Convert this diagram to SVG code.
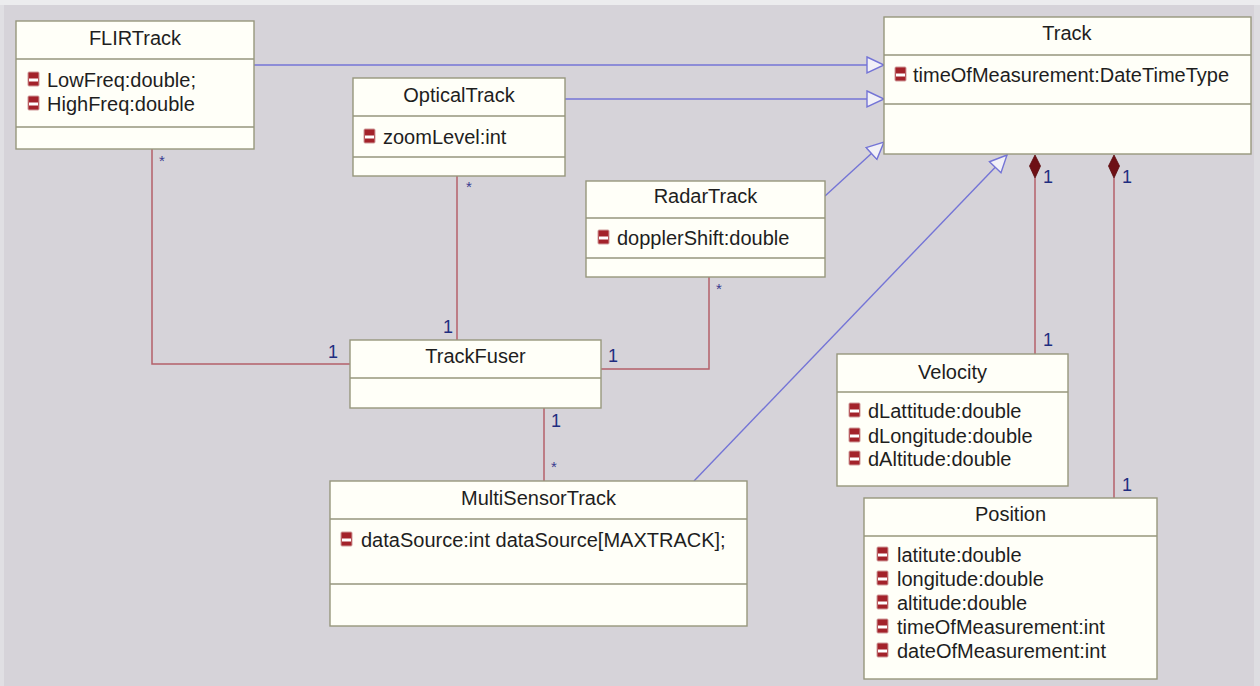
<svg xmlns="http://www.w3.org/2000/svg" width="1260" height="686" viewBox="0 0 1260 686">
  <style>
    .box { fill: #fffff8; stroke: #97977d; stroke-width: 1.4; }
    .div { stroke: #97977d; stroke-width: 1.4; fill: none; }
    .title { font-family: "Liberation Sans", Arial, sans-serif; font-size: 20px; fill: #1e1e1e; text-anchor: middle; }
    .attr { font-family: "Liberation Sans", Arial, sans-serif; font-size: 20px; fill: #1e1e1e; }
    .gen { stroke: #7474d6; stroke-width: 1.4; fill: none; marker-end: url(#hollow); }
    .assoc { stroke: #b4606a; stroke-width: 1.5; fill: none; }
    .mult { font-family: "Liberation Sans", Arial, sans-serif; font-size: 18px; fill: #1f2d80; }
    .star { font-family: "Liberation Sans", Arial, sans-serif; font-size: 15px; fill: #3a3a90; }
    .diamond { fill: #6e1016; stroke: #5a0a0e; stroke-width: 0.8; }
  </style>
  <defs>
    <!-- hollow triangle for generalization -->
    <marker id="hollow" viewBox="0 0 20 20" refX="18" refY="10" markerWidth="20" markerHeight="20" markerUnits="userSpaceOnUse" orient="auto">
      <path d="M1,2 L18,10 L1,18 Z" fill="#f2f1f7" stroke="#7474d6" stroke-width="1.4"/>
    </marker>
    <!-- private field icon -->
    <g id="field">
      <rect x="0" y="0" width="11" height="14" rx="1" fill="#a3222a" stroke="#cf9a9a" stroke-width="1"/>
      <rect x="1" y="6.5" width="9" height="3" fill="#ffffff"/>
    </g>
  </defs>

  <!-- backdrop -->
  <rect x="0" y="0" width="1260" height="686" fill="#d6d3d9"/>
  <rect x="0" y="0" width="1260" height="5" fill="#ececee"/>
  <rect x="0" y="5" width="4" height="681" fill="#e0dfe3"/>
  <rect x="1254" y="5" width="6" height="681" fill="#dedde1"/>

  <g id="connectors">
    <!-- generalizations to Track -->
    <path class="gen" d="M254,65 L884,65"/>
    <path class="gen" d="M565,99 L884,99"/>
    <path class="gen" d="M825,196 L884,142"/>
    <path class="gen" d="M694,481 L1007,155"/>
    <!-- associations to TrackFuser -->
    <path class="assoc" d="M152,149 L152,364 L350,364"/>
    <path class="assoc" d="M457,176 L457,340"/>
    <path class="assoc" d="M709,277 L709,369 L601,369"/>
    <path class="assoc" d="M544,408 L544,481"/>
    <!-- compositions from Track -->
    <path class="assoc" d="M1035,178 L1035,354"/>
    <path class="assoc" d="M1114,178 L1114,498"/>
    <path class="diamond" d="M1035,155 L1040.5,166 L1035,178 L1029.5,166 Z"/>
    <path class="diamond" d="M1114,155 L1119.5,166 L1114,178 L1108.5,166 Z"/>
    <!-- multiplicities -->
    <text class="star" x="159" y="166">*</text>
    <text class="mult" x="328" y="358">1</text>
    <text class="star" x="466" y="192">*</text>
    <text class="mult" x="443" y="333">1</text>
    <text class="star" x="716" y="294">*</text>
    <text class="mult" x="608" y="362">1</text>
    <text class="mult" x="551" y="427">1</text>
    <text class="star" x="551" y="472">*</text>
    <text class="mult" x="1043" y="183">1</text>
    <text class="mult" x="1043" y="346">1</text>
    <text class="mult" x="1122" y="183">1</text>
    <text class="mult" x="1122" y="491">1</text>
  </g>

  <g id="FLIRTrack">
    <rect class="box" x="16" y="21" width="238" height="128"/>
    <path class="div" d="M16,59 H254 M16,127 H254"/>
    <text class="title" x="135" y="45">FLIRTrack</text>
    <use href="#field" x="28" y="72"/>
    <text class="attr" x="47" y="87">LowFreq:double;</text>
    <use href="#field" x="28" y="96"/>
    <text class="attr" x="47" y="111">HighFreq:double</text>
  </g>

  <g id="OpticalTrack">
    <rect class="box" x="353" y="78" width="212" height="98"/>
    <path class="div" d="M353,116 H565 M353,157 H565"/>
    <text class="title" x="459" y="102">OpticalTrack</text>
    <use href="#field" x="364" y="129"/>
    <text class="attr" x="383" y="144">zoomLevel:int</text>
  </g>

  <g id="RadarTrack">
    <rect class="box" x="586" y="181" width="239" height="96"/>
    <path class="div" d="M586,218 H825 M586,258 H825"/>
    <text class="title" x="705.5" y="203">RadarTrack</text>
    <use href="#field" x="598" y="230"/>
    <text class="attr" x="617" y="245">dopplerShift:double</text>
  </g>

  <g id="Track">
    <rect class="box" x="884" y="17" width="367" height="137"/>
    <path class="div" d="M884,55 H1251 M884,104 H1251"/>
    <text class="title" x="1067" y="40">Track</text>
    <use href="#field" x="895" y="67"/>
    <text class="attr" x="913" y="82">timeOfMeasurement:DateTimeType</text>
  </g>

  <g id="TrackFuser">
    <rect class="box" x="350" y="340" width="251" height="68"/>
    <path class="div" d="M350,378 H601"/>
    <text class="title" x="475.5" y="363">TrackFuser</text>
  </g>

  <g id="MultiSensorTrack">
    <rect class="box" x="330" y="481" width="417" height="145"/>
    <path class="div" d="M330,519 H747 M330,584 H747"/>
    <text class="title" x="538.5" y="505">MultiSensorTrack</text>
    <use href="#field" x="341" y="532"/>
    <text class="attr" x="361" y="547">dataSource:int dataSource[MAXTRACK];</text>
  </g>

  <g id="Velocity">
    <rect class="box" x="837" y="354" width="231" height="132"/>
    <path class="div" d="M837,392 H1068"/>
    <text class="title" x="952.5" y="379">Velocity</text>
    <use href="#field" x="849" y="403"/>
    <text class="attr" x="868" y="418">dLattitude:double</text>
    <use href="#field" x="849" y="428"/>
    <text class="attr" x="868" y="443">dLongitude:double</text>
    <use href="#field" x="849" y="451"/>
    <text class="attr" x="868" y="466">dAltitude:double</text>
  </g>

  <g id="Position">
    <rect class="box" x="864" y="498" width="293" height="181"/>
    <path class="div" d="M864,536 H1157"/>
    <text class="title" x="1010.5" y="521">Position</text>
    <use href="#field" x="877" y="547"/>
    <text class="attr" x="897" y="562">latitute:double</text>
    <use href="#field" x="877" y="571"/>
    <text class="attr" x="897" y="586">longitude:double</text>
    <use href="#field" x="877" y="595"/>
    <text class="attr" x="897" y="610">altitude:double</text>
    <use href="#field" x="877" y="619"/>
    <text class="attr" x="897" y="634">timeOfMeasurement:int</text>
    <use href="#field" x="877" y="643"/>
    <text class="attr" x="897" y="658">dateOfMeasurement:int</text>
  </g>
</svg>
